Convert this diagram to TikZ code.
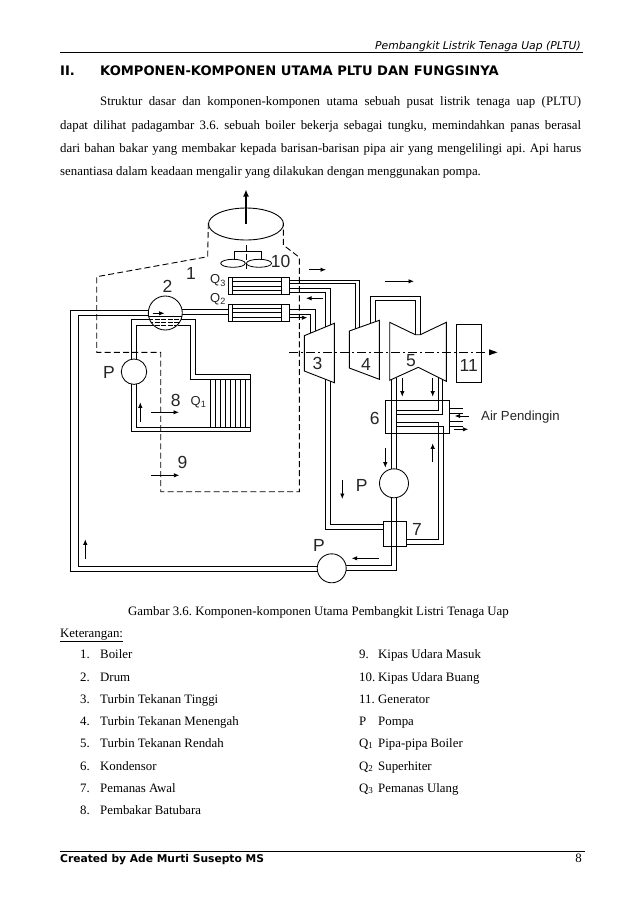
\documentclass[tikz,border=0pt]{standalone}
\usepackage{fontspec}
\setmainfont{Liberation Serif}
\newfontfamily\arialf{Liberation Sans}
\newfontfamily\dejaf{DejaVu Sans}
\usetikzlibrary{arrows.meta}
\tikzset{
  x=1pt,y=-1pt,
  pipe/.style={line width=0.95pt,line join=miter},
  airline/.style={line width=0.9pt,dash pattern=on 6pt off 3.2pt},
  axisline/.style={line width=0.9pt,dash pattern=on 9pt off 3pt on 2pt off 3pt},
  flow/.style={line width=0.9pt,-{Latex[length=5.5pt,width=4.5pt]}},
  pumpc/.style={circle,draw,fill=white,line width=0.85pt,minimum size=#1,inner sep=0pt},
  bignum/.style={inner sep=0pt,font=\arialf\fontsize{17.5}{18}\selectfont,text=black!85},
  qlab/.style={inner sep=0pt,font=\arialf\fontsize{13}{14}\selectfont,text=black!85},
  body/.style={inner sep=0pt,anchor=base west,font=\fontsize{12.85}{14}\selectfont},
}
\begin{document}
\frenchspacing
\begin{tikzpicture}
\useasboundingbox (0,0) rectangle (638,903);
\fill[white] (0,0) rectangle (638,903);
% page furniture
\node[inner sep=0pt,anchor=base east,font=\dejaf\itshape\fontsize{10.8}{12}\selectfont] (hdr) at (581,49.5) {Pembangkit Listrik Tenaga Uap (PLTU)};
\draw[line width=1pt] (60,52.3) coordinate (hr1) -- (583,52.3) coordinate (hr2);
\node[inner sep=0pt,anchor=base west,font=\dejaf\bfseries\fontsize{13.1}{14}\selectfont] (secn) at (60,75.5) {II.};
\node[inner sep=0pt,anchor=base west,font=\dejaf\bfseries\fontsize{13.1}{14}\selectfont] (sect) at (100,75.5) {KOMPONEN-KOMPONEN UTAMA PLTU DAN FUNGSINYA};
\node[body] (p1) at (100,105.5) {\makebox[481pt][s]{Struktur dasar dan komponen-komponen utama sebuah pusat listrik tenaga uap (PLTU)}};
\node[body] (p2) at (60,129) {\makebox[521pt][s]{dapat dilihat padagambar 3.6. sebuah boiler bekerja sebagai tungku, memindahkan panas berasal}};
\node[body] (p3) at (60,152) {\makebox[521pt][s]{dari bahan bakar yang membakar kepada barisan-barisan pipa air yang mengelilingi api. Api harus}};
\node[body] (p4) at (60,175.5) {senantiasa dalam keadaan mengalir yang dilakukan dengan menggunakan pompa.};
\node[body] (cap) at (128,615) {Gambar 3.6. Komponen-komponen Utama Pembangkit Listri Tenaga Uap};
\node[body] (ket) at (60,637) {\underline{Keterangan:}};
\foreach \n/\yy/\num/\txt in {a/658/1./Boiler,b/681/2./Drum,c/703/3./Turbin Tekanan Tinggi,d/725/4./Turbin Tekanan Menengah,e/747/5./Turbin Tekanan Rendah,f/770/6./Kondensor,g/792/7./Pemanas Awal,h/814/8./Pembakar Batubara}{
  \node[body] (ln\n) at (80,\yy) {\num};
  \node[body] (lt\n) at (100,\yy) {\txt};
}
\foreach \n/\yy/\num/\txt in {a/658/9./Kipas Udara Masuk,b/681/10./Kipas Udara Buang,c/703/11./Generator,d/725/P/Pompa,e/747/Q\textsubscript{1}/Pipa-pipa Boiler,f/770/Q\textsubscript{2}/Superhiter,g/792/Q\textsubscript{3}/Pemanas Ulang}{
  \node[body] (rn\n) at (359,\yy) {\num};
  \node[body] (rt\n) at (378,\yy) {\txt};
}
\draw[line width=1pt] (60,851) coordinate (fr1) -- (585,851) coordinate (fr2);
\node[inner sep=0pt,anchor=base west,font=\dejaf\bfseries\fontsize{10.7}{12}\selectfont] (ftr) at (60,862.5) {Created by Ade Murti Susepto MS};
\node[body,anchor=base east] (pg) at (582,862.5) {8};

% air / flue duct
\draw[airline] (208.3,223) -- (207.7,256.7) -- (96.7,276.7) -- (96.7,352.3) -- (160.7,352.3) -- (160.7,491.7) -- (299.3,491.7) -- (299.3,257.3) -- (283.3,245) -- (283.3,223);
\draw[airline] (246,245) -- (246,272);
% stack
\draw[line width=0.9pt] (246,224) ellipse [x radius=37.5,y radius=16];
\coordinate (st) at (246,224);
\coordinate (sttop) at (246,189.5);
\draw[line width=1.3pt,-{Latex[length=7pt,width=6pt]}] (st) -- (sttop);
% fan
\draw[line width=0.8pt] (234.3,260) -- (234.3,251.3) -- (261.7,251.3) -- (261.7,260);
\draw[line width=0.8pt] (233,263.3) ellipse [x radius=12.3,y radius=4];
\draw[line width=0.8pt] (259,263.3) ellipse [x radius=12.6,y radius=4];

% main steam left loop
\draw[pipe] (148.5,310.3) -- (70.7,310.3) -- (70.7,571.5) -- (318,571.5);
\draw[pipe] (148.5,315.3) -- (78.3,315.3) -- (78.3,566.5) -- (318,566.5);
% drum to Q2
\draw[pipe] (181.5,309.3) -- (228.3,309.3);
\draw[pipe] (181.5,314.7) -- (228.3,314.7);
% risers
\draw[pipe] (150,319.7) -- (131.3,319.7) -- (131.3,431.7) -- (250.7,431.7) -- (250.7,374.7) -- (195.7,374.7) -- (195.7,319.7) -- (181,319.7);
\draw[pipe] (153.5,325) -- (136.7,325) -- (136.7,427.3) -- (250.7,427.3);
\draw[pipe] (250.7,379.3) -- (190.7,379.3) -- (190.7,325) -- (177.5,325);
\foreach \xx in {210.7,215.7,220.7,225.7,230.7,235.7,240.7,245.7}{
  \draw[line width=0.8pt] (\xx,379.3) -- (\xx,427.3);
}
% drum
\node[pumpc=34pt] (drum) at (165.3,313) {};
\begin{scope}
  \clip (165.3,313) circle (17);
  \draw[line width=0.9pt] (148,316) -- (183,316);
  \draw[line width=1pt,dash pattern=on 5pt off 1.6pt] (148,319.3) -- (183,319.3);
  \draw[line width=1pt,dash pattern=on 5pt off 1.6pt] (148,322.3) -- (183,322.3);
  \draw[line width=1pt,dash pattern=on 5pt off 1.6pt] (148,325.2) -- (183,325.2);
\end{scope}
\draw[flow] (152.7,313.3) -- (164.5,313.3);
% heat exchangers
\foreach \yy in {277.7,304.3}{
  \begin{scope}[shift={(0,\yy)}]
    \draw[line width=0.95pt] (228.3,0) rectangle (289.3,16.8);
    \draw[line width=0.9pt] (232.3,0) -- (232.3,16.8);
    \draw[line width=0.9pt] (281.7,0) -- (281.7,16.8);
    \foreach \dd in {4,8.4,12.7}{\draw[line width=0.8pt] (232.3,\dd) -- (281.7,\dd);}
  \end{scope}
}
% turbine feed pipes
\draw[pipe] (289.3,280) -- (359.7,280) -- (359.7,327.3);
\draw[pipe] (289.3,283.3) -- (355,283.3) -- (355,329);
\draw[pipe] (289.3,288.3) -- (330.7,288.3) -- (330.7,324.8);
\draw[pipe] (289.3,292.7) -- (325.7,292.7) -- (325.7,326.9);
\draw[pipe] (289.3,309.3) -- (315.7,309.3) -- (315.7,331);
\draw[pipe] (289.3,314) -- (310.7,314) -- (310.7,333);
\draw[pipe] (370.7,323.4) -- (370.7,296.3) -- (420.3,296.3) -- (420.3,334.7);
\draw[pipe] (375,321.8) -- (375,300.7) -- (415.7,300.7) -- (415.7,334.7);
% turbine 3 exhaust to heater 7
\draw[pipe] (325.7,379.3) -- (325.7,529.3) -- (383.3,529.3);
\draw[pipe] (330.5,381.2) -- (330.5,524.3) -- (383.3,524.3);
% condensate
\draw[pipe] (391.7,380) -- (391.7,565) -- (345,565);
\draw[pipe] (396.7,378) -- (396.7,570.3) -- (345,570.3);
\draw[pipe] (438,378) -- (438,410.7) -- (396.7,410.7);
\draw[pipe] (442.7,380) -- (442.7,414.7) -- (396.7,414.7);
\draw[pipe] (396.7,422.7) -- (438.7,422.7) -- (438.7,539) -- (406.7,539);
\draw[pipe] (396.7,426.7) -- (443.3,426.7) -- (443.3,544.3) -- (406.7,544.3);
% turbines
\draw[line width=0.9pt] (304.3,335.7) -- (334.3,323.3) -- (334.3,382.7) -- (304.3,371) -- cycle;
\draw[line width=0.9pt] (349.3,331) -- (379.3,320.3) -- (379.3,379.3) -- (349.3,368) -- cycle;
\draw[line width=0.9pt] (389.7,322.3) -- (415.3,334.7) -- (420.3,334.7) -- (446.3,322.3) -- (446.3,381.3) -- (418.3,367.3) -- (389.7,380.3) -- cycle;
\node[draw,line width=0.9pt,inner sep=0pt,minimum width=25.4pt,minimum height=58.4pt] (gen) at (469,353.5) {};
% axis
\draw[axisline] (289,352.3) -- (486,352.3);
\coordinate (ax1) at (489,352.3);
\coordinate (ax2) at (497.5,352.3);
\fill (ax1) ++(0,-3) -- (ax2) -- ++(-8.5,3) -- cycle;
% condenser and heater
\node[draw,line width=0.9pt,inner sep=0pt,minimum width=64.4pt,minimum height=33.4pt] (cond) at (417.5,417) {};
\node[draw,line width=0.9pt,inner sep=0pt,minimum width=23.4pt,minimum height=25.7pt] (heat) at (395,533.8) {};
\draw[pipe] (391.7,400) -- (391.7,434);
\draw[pipe] (396.7,400) -- (396.7,434);
\draw[pipe] (391.7,521) -- (391.7,547);
\draw[pipe] (396.7,521) -- (396.7,547);
% cooling ports
\draw[pipe] (449.7,408.3) -- (462.7,408.3);
\draw[pipe] (449.7,413.3) -- (462.7,413.3);
\draw[pipe] (449.7,421.7) -- (462.7,421.7);
\draw[pipe] (449.7,426) -- (462.7,426);
% pumps
\node[pumpc=25.4pt] (p1pump) at (134,371.7) {};
\node[pumpc=29pt] (p2pump) at (394,483.3) {};
\node[pumpc=29pt] (p3pump) at (331.7,568.3) {};
% flow arrows
\draw[flow] (309.3,269.7) -- (326,269.7);
\draw[flow] (385,281.3) -- (414,281.3);
\draw[flow] (322.7,298.3) -- (306,298.3);
\draw[flow] (290,317.7) -- (307.3,317.7);
\draw[flow] (402.3,377.7) -- (402.3,396.7);
\draw[flow] (432.7,377.7) -- (432.7,396.7);
\draw[flow] (468.7,416) -- (454.7,416);
\draw[flow] (454,429.3) -- (468.3,429.3);
\draw[flow] (432.7,461.7) -- (432.7,443.3);
\draw[flow] (385.3,448.3) -- (385.3,467.7);
\draw[flow] (342.3,480) -- (342.3,499);
\draw[flow] (379,558.3) -- (351.7,558.3);
\draw[flow] (140.3,421.7) -- (140.3,402.3);
\draw[flow] (151,412.3) -- (179,412.3);
\draw[flow] (151,475.3) -- (179.3,475.3);
\draw[flow] (85.3,559) -- (85.3,539.3);
% labels
\node[bignum] (l1) at (191,273) {1};
\node[bignum] (l2) at (167.5,286) {2};
\node[bignum] (l10) at (280.7,261.7) {10};
\node[bignum] (l3) at (317.5,363.5) {3};
\node[bignum] (l4) at (366,364) {4};
\node[bignum] (l5) at (411,361) {5};
\node[bignum] (l11) at (468.7,365.5) {11};
\node[bignum] (l6) at (374.7,418) {6};
\node[bignum] (l7) at (417,529.3) {7};
\node[bignum] (l8) at (175.7,400.7) {8};
\node[bignum] (l9) at (182.5,462.7) {9};
\node[bignum] (lp1) at (109,372.7) {P};
\node[bignum] (lp2) at (361.7,485.7) {P};
\node[bignum] (lp3) at (319,545) {P};
\node[qlab] (q3) at (218,280.5) {Q\textsubscript{3}};
\node[qlab] (q2) at (218,299) {Q\textsubscript{2}};
\node[qlab] (q1) at (198.5,402) {Q\textsubscript{1}};
\node[inner sep=0pt,anchor=west,font=\arialf\fontsize{13.2}{14}\selectfont,text=black!85] (air) at (481,417.3) {Air Pendingin};
\end{tikzpicture}
\end{document}
